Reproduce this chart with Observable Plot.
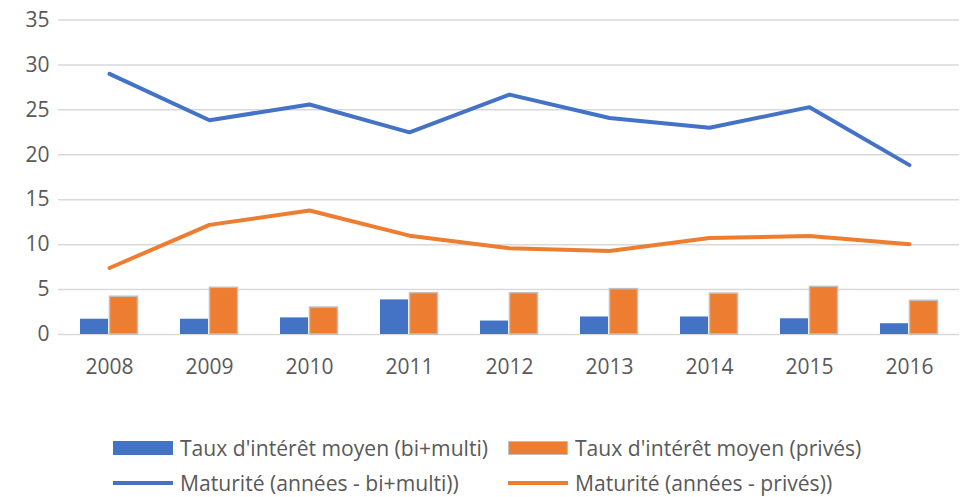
<!DOCTYPE html>
<html>
<head>
<meta charset="utf-8">
<script src="https://cdn.jsdelivr.net/npm/d3@7"></script>
<script src="https://cdn.jsdelivr.net/npm/@observablehq/plot@0.6"></script>
<style>
  body { margin: 0; background: #fff; }
  #wrap { width: 972px; font-family: "Open Sans", sans-serif; color: #595959; }
  #legend { position: relative; width: 972px; height: 97px; font-size: 21px; line-height: 21px; }
  .item { position: absolute; display: flex; align-items: center; white-space: nowrap; height: 24px; }
  .sw { width: 60px; box-sizing: border-box; flex: none; }
  .tx { display: inline-block; transform-origin: 0 50%; margin-left: 7px; }
</style>
</head>
<body>
<div id="wrap">
  <div id="chart"></div>
  <div id="legend"></div>
</div>
<script>
const years = ["2008", "2009", "2010", "2011", "2012", "2013", "2014", "2015", "2016"];
const tauxBiMulti = [1.7, 1.7, 1.85, 3.85, 1.5, 1.95, 1.95, 1.75, 1.2];
const tauxPrives = [4.2, 5.2, 3.0, 4.6, 4.6, 5.05, 4.55, 5.3, 3.75];
const maturiteBiMulti = [29.0, 23.85, 25.6, 22.5, 26.7, 24.1, 23.0, 25.3, 18.85];
const maturitePrives = [7.4, 12.2, 13.8, 11.0, 9.6, 9.3, 10.75, 10.95, 10.05];
const yTicks = [0, 5, 10, 15, 20, 25, 30, 35];
const seriesNames = [
  "Taux d'intérêt moyen (bi+multi)",
  "Taux d'intérêt moyen (privés)",
  "Maturité (années - bi+multi))",
  "Maturité (années - privés))"
];
const blue = "#4472C4", orange = "#ED7D31";

const data = years.map((year, i) => ({
  year,
  bi: tauxBiMulti[i],
  priv: tauxPrives[i],
  matBi: maturiteBiMulti[i],
  matPriv: maturitePrives[i]
}));

const chart = Plot.plot({
  width: 972,
  height: 400,
  marginLeft: 58,
  marginRight: 13,
  marginTop: 19.5,
  marginBottom: 66,
  style: { fontFamily: "'Open Sans', sans-serif", fontSize: "21px", color: "#595959", background: "#fff" },
  x: { type: "band", domain: years, padding: 0, label: null, tickSize: 0, tickPadding: 25 },
  y: { domain: [0, 35], ticks: yTicks, label: null, tickSize: 0, tickPadding: 9 },
  marks: [
    Plot.ruleY(yTicks, { stroke: "#d9d9d9", strokeWidth: 1.5 }),
    Plot.barY(data, { x: "year", y: "bi", fill: blue, insetLeft: 21, insetRight: 51 }),
    Plot.barY(data, { x: "year", y: "priv", fill: orange, stroke: "#BFBFBF", strokeWidth: 1.5, insetLeft: 50.5, insetRight: 21.5 }),
    Plot.line(data, { x: "year", y: "matBi", stroke: blue, strokeWidth: 4 }),
    Plot.line(data, { x: "year", y: "matPriv", stroke: orange, strokeWidth: 4 })
  ]
});
document.getElementById("chart").appendChild(chart);

const legend = document.getElementById("legend");
const items = [
  { name: seriesNames[0], left: 112.5, top: 48, kind: "rect", color: blue },
  { name: seriesNames[1], left: 507.5, top: 48, kind: "rect", color: orange },
  { name: seriesNames[2], left: 112.5, top: 83, kind: "line", color: blue },
  { name: seriesNames[3], left: 507.5, top: 83, kind: "line", color: orange }
];
const spans = [];
for (const it of items) {
  const div = document.createElement("div");
  div.className = "item";
  div.style.left = it.left + "px";
  div.style.top = (it.top - 12) + "px";
  const sw = document.createElement("div");
  sw.className = "sw";
  if (it.kind === "rect") {
    sw.style.height = "14px";
    sw.style.background = it.color;
    if (it.color === orange) sw.style.border = "1.5px solid #BFBFBF";
  } else {
    sw.style.height = "4px";
    sw.style.background = it.color;
  }
  const tx = document.createElement("span");
  tx.className = "tx";
  tx.textContent = it.name;
  div.appendChild(sw);
  div.appendChild(tx);
  legend.appendChild(div);
  spans.push(tx);
}
// match the horizontal proportions of the original legend text
const k = 308 / spans[0].getBoundingClientRect().width;
for (const s of spans) {
  const w = s.getBoundingClientRect().width;
  s.style.width = (w * k) + "px";
  s.style.transform = `scaleX(${k})`;
}
</script>
</body>
</html>
